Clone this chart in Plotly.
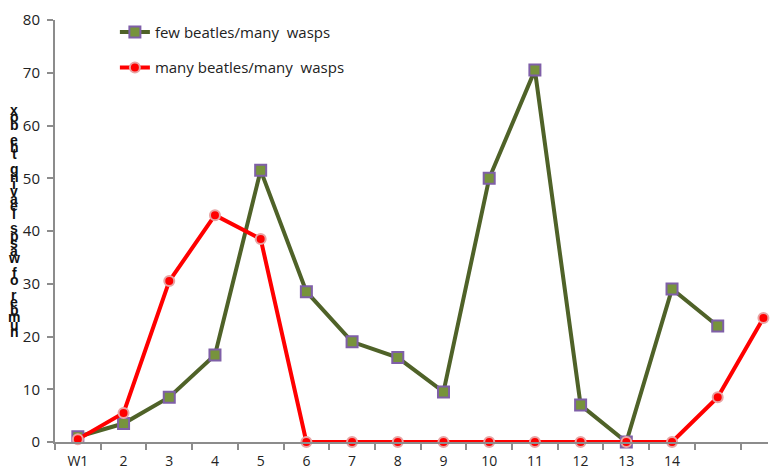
import plotly.graph_objects as go

categories = ["W1", "2", "3", "4", "5", "6", "7", "8", "9", "10", "11", "12", "13", "14", "", ""]
few_beatles = [1, 3.5, 8.5, 16.5, 51.5, 28.5, 19, 16, 9.5, 50, 70.5, 7, 0, 29, 22, None]
many_beatles = [0.5, 5.5, 30.5, 43, 38.5, 0, 0, 0, 0, 0, 0, 0, 0, 0, 8.5, 23.5]
y_ticks = [0, 10, 20, 30, 40, 50, 60, 70, 80]
y_title = "number of wasps leaving the box"

x = list(range(len(categories)))
label_idx = [i for i, c in enumerate(categories) if c]

W, H = 777, 472
L, R, T, B = 55, 9, 20, 30

fig = go.Figure()
fig.add_trace(go.Scatter(
    x=x, y=few_beatles, mode="lines+markers", name="few beatles/many  wasps",
    legendgroup="a",
    line=dict(color="#4F6228", width=4),
    marker=dict(symbol="square", size=11, color="#77933C",
                line=dict(color="#7F5FA8", width=2)),
    cliponaxis=False,
))
fig.add_trace(go.Scatter(
    x=x, y=many_beatles, mode="lines+markers", name="many beatles/many  wasps",
    legendgroup="b",
    line=dict(color="#FF0000", width=4),
    marker=dict(symbol="circle", size=10, color="#FF0000",
                line=dict(color="#E8A4A4", width=2)),
    cliponaxis=False,
))

font = "'Open Sans', sans-serif"

fig.update_layout(
    width=W, height=H,
    margin=dict(l=L, r=R, t=T, b=B, autoexpand=False),
    paper_bgcolor="white", plot_bgcolor="white",
    font=dict(family=font, size=15, color="#222"),
    showlegend=True,
    legend=dict(x=0.084, y=1.01, xanchor="left", yanchor="top",
                bgcolor="rgba(0,0,0,0)", tracegroupgap=13,
                font=dict(size=15, color="#222")),
    xaxis=dict(
        range=[-0.5, 15.1], showgrid=False, zeroline=False,
        showline=True, linecolor="#8C8C8C", linewidth=2,
        tickmode="array", tickvals=label_idx,
        ticktext=[categories[i] for i in label_idx],
        ticks="", ticklabelstandoff=5, tickfont=dict(size=14),
        minor=dict(tickmode="array", tickvals=[i - 0.5 for i in range(len(categories))],
                   ticks="outside", ticklen=6, tickcolor="#8C8C8C", tickwidth=2),
    ),
    yaxis=dict(
        range=[0, 80], showgrid=False, zeroline=False,
        showline=True, linecolor="#8C8C8C", linewidth=2,
        tickmode="array", tickvals=y_ticks,
        ticks="outside", ticklen=6, tickcolor="#8C8C8C", tickwidth=2,
        ticklabelstandoff=4,
    ),
)

# stacked vertical axis title (letters read bottom-to-top)
chars = list(y_title)
top_px, bot_px = 110, 332
n = len(chars)
step = (bot_px - top_px) / (n - 1)
plot_h = H - T - B
plot_w = W - L - R
for k, ch in enumerate(reversed(chars)):
    if ch == " ":
        continue
    ypx = top_px + k * step
    fig.add_annotation(
        text="<b>%s</b>" % ch, showarrow=False,
        xref="paper", yref="paper",
        x=(14 - L) / plot_w, y=(H - B - ypx) / plot_h,
        xanchor="center", yanchor="middle",
        font=dict(family="Liberation Sans, Arial, sans-serif", size=14, color="#111"),
    )

fig.write_html("out.html", config={"displayModeBar": False},
               post_script="document.body.style.margin='0';")
